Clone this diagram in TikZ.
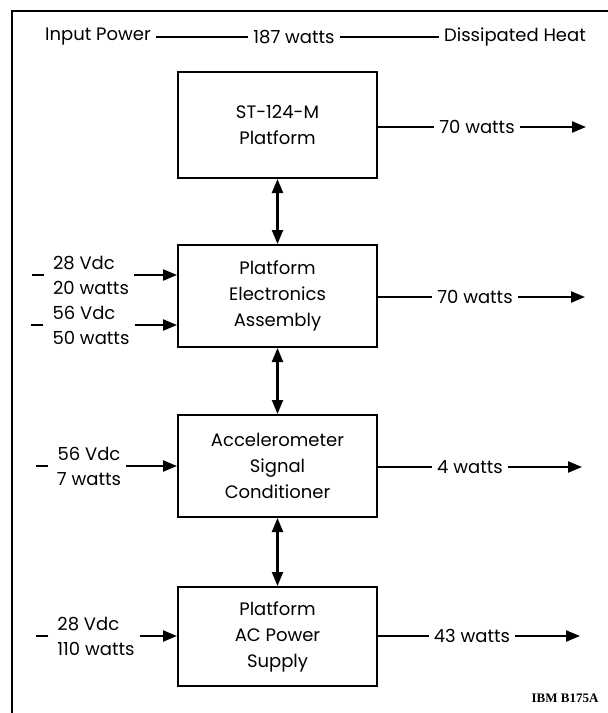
\documentclass[tikz,border=0pt]{standalone}
\usepackage{fontspec}
\setmainfont{Poppins}
\newfontfamily\tagfont{Liberation Serif}
\usepackage{tikz}
\usetikzlibrary{arrows.meta, positioning, calc}

\begin{document}
\begin{tikzpicture}[>={Triangle[length=14pt, width=11pt]}, x=1pt, y=-1pt, line width=2.2pt,
    block/.style={draw, line width=2pt, minimum width=199pt, minimum height=102pt,
      align=center, font=\fontsize{18}{26}\selectfont},
    lbl/.style={font=\fontsize{18}{25}\selectfont, inner sep=4pt}]
    \useasboundingbox (0,0) rectangle (608,713);
    % Frame
    \draw (12,713) -- (12,11) -- (608,11);

    % Heading
    \node [lbl] (hin) at (98,37) {Input Power};
    \node [lbl] (htot) at (294,37) {187 watts};
    \node [lbl] (hout) at (515,37) {Dissipated Heat};
    \draw [line width=1.5pt] (hin) -- (htot);
    \draw [line width=1.5pt] (htot) -- (hout);

    % Blocks
    \node [block, minimum height=106pt] (plat) at (277.5,125) {ST-124-M\\Platform};
    \node [block] (pea) at (277.5,296) {Platform\\Electronics\\Assembly};
    \node [block] (asc) at (277.5,466) {Accelerometer\\Signal\\Conditioner};
    \node [block, minimum height=99pt] (acps) at (277.5,636.5) {Platform\\AC Power\\Supply};

    % Links between blocks
    \draw [<->] (plat) -- (pea);
    \draw [<->] (pea) -- (asc);
    \draw [<->] (asc) -- (acps);

    % Inputs
    \node [lbl, align=left] (in1) at (91,275) {28 Vdc\\20 watts};
    \node [lbl, align=left] (in2) at (91,325) {56 Vdc\\50 watts};
    \node [lbl, align=center] (in3) at (89,466) {56 Vdc\\7 watts};
    \node [lbl, align=left] (in4) at (96,636) {28 Vdc\\110 watts};
    \foreach \n in {in1, in2, in3, in4} {
        \draw ([xshift=-4pt]\n.west) -- ++(-12,0);
        \draw [->] (\n.east) -- (\n.east -| pea.west);
    }

    % Heat out
    \coordinate (e1) at (586,127);
    \coordinate (e2) at (585,297);
    \coordinate (e3) at (582,467);
    \coordinate (e4) at (580,636);
    \node [lbl] (o1) at (477,127) {70 watts};
    \node [lbl] (o2) at (475,297) {70 watts};
    \node [lbl] (o3) at (470,467) {4 watts};
    \node [lbl] (o4) at (472,636) {43 watts};
    \foreach \i in {1,...,4} {
        \draw (o\i.west -| plat.east) -- (o\i.west);
        \draw [->] (o\i.east) -- (e\i);
    }

    \node [font=\fontsize{13}{15}\tagfont\bfseries] (tag) at (565,698) {IBM B175A};
\end{tikzpicture}
\end{document}
